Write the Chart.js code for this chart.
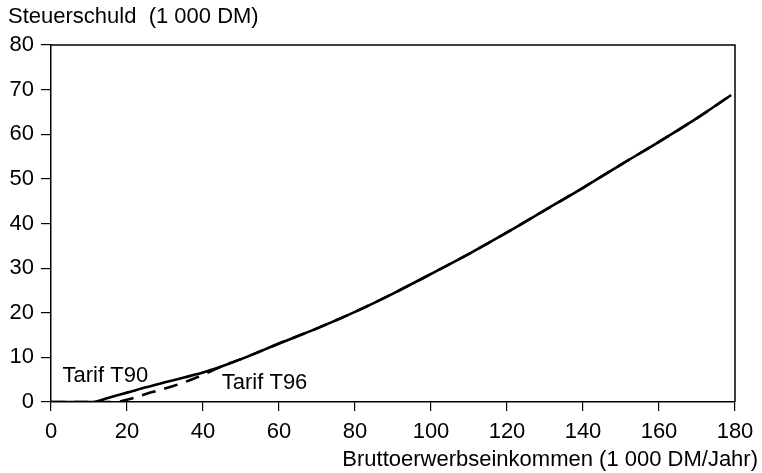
<!DOCTYPE html>
<html lang="de">

<head>
  <meta charset="utf-8">
  <title>Steuerschuld - Tarif T90 / T96</title>
  <script src="https://cdn.jsdelivr.net/npm/chart.js@4/dist/chart.umd.min.js"></script>
  <style>
    html, body { margin: 0; padding: 0; background: #fff; }
    #wrap { width: 762px; height: 473px; }
  </style>
</head>

<body>
  <div id="wrap"><canvas id="graph"></canvas></div>

  <script>
    // Bruttoerwerbseinkommen (1 000 DM/Jahr)
    var einkommen = [0, 5, 11, 15, 17, 20, 25, 30, 35, 40, 45, 50, 60, 70, 80, 90, 100, 110, 120, 130, 140, 150, 160, 170, 179];
    // Steuerschuld (1 000 DM)
    var tarifT90 = [0, 0, 0, 0.9, 1.4, 2.1, 3.3, 4.4, 5.5, 6.6, 8.0, 9.6, 13.1, 16.5, 20.2, 24.3, 28.7, 33.2, 38.0, 43.0, 48.0, 53.2, 58.3, 63.6, 68.8];
    var tarifT96 = [0, 0, 0, 0, 0, 0.5, 1.8, 3.0, 4.4, 6.1, 8.0, 9.6, 13.1, 16.5, 20.2, 24.3, 28.7, 33.2, 38.0, 43.0, 48.0, 53.2, 58.3, 63.6, 68.8];

    var xTicks = [0, 20, 40, 60, 80, 100, 120, 140, 160, 180];
    var yTicks = [0, 10, 20, 30, 40, 50, 60, 70, 80];

    var tarifNamen = ['Tarif T90', 'Tarif T96'];
    var tarifNamenX = [14.3, 56.2];
    var tarifNamenY = [5.8, 4.2];

    var yTitel = 'Steuerschuld  (1 000 DM)';
    var xTitel = 'Bruttoerwerbseinkommen (1 000 DM/Jahr)';

    var schrift = '"Liberation Sans", Arial, Helvetica, sans-serif';

    function punkte(xs, ys) {
      var p = [];
      for (var i = 0; i < xs.length; i++)
        p.push({ x: xs[i], y: ys[i] });
      return p;
    }

    // Rahmen oben/rechts, Achsentitel und Kurvenbeschriftung
    const beschriftung = {
      id: 'beschriftung',
      afterDraw(chart) {
        var ctx = chart.ctx;
        var a = chart.chartArea;
        var sx = chart.scales.x, sy = chart.scales.y;
        ctx.save();
        ctx.strokeStyle = '#000';
        ctx.lineWidth = 1.5;
        ctx.beginPath();
        ctx.moveTo(a.left, a.top);
        ctx.lineTo(a.right, a.top);
        ctx.lineTo(a.right, a.bottom);
        ctx.stroke();

        ctx.fillStyle = '#000';
        ctx.font = '22px ' + schrift;
        ctx.textBaseline = 'middle';
        ctx.textAlign = 'left';
        ctx.fillText(yTitel, a.left - 43, a.top - 28);
        ctx.textAlign = 'right';
        ctx.fillText(xTitel, chart.width - 4, a.bottom + 58);

        ctx.textAlign = 'center';
        for (var i = 0; i < tarifNamen.length; i++)
          ctx.fillText(tarifNamen[i], sx.getPixelForValue(tarifNamenX[i]), sy.getPixelForValue(tarifNamenY[i]));
        ctx.restore();
      }
    };

    var data = {
      datasets: [{
        label: 'Tarif T96',
        data: punkte(einkommen, tarifT96),
        borderColor: '#000',
        borderWidth: 2.6,
        borderDash: [14, 9],
        pointRadius: 0,
        fill: false,
        cubicInterpolationMode: 'monotone'
      }, {
        label: 'Tarif T90',
        data: punkte(einkommen, tarifT90),
        borderColor: '#000',
        borderWidth: 2.6,
        pointRadius: 0,
        fill: false,
        cubicInterpolationMode: 'monotone'
      }]
    };

    const options = {
      responsive: true,
      maintainAspectRatio: false,
      animation: false,
      layout: { padding: { left: 0, top: 45, right: 27, bottom: 0 } },
      plugins: { legend: { display: false }, tooltip: { enabled: false } },
      scales: {
        x: {
          type: 'linear',
          min: 0, max: 180,
          afterBuildTicks: s => { s.ticks = xTicks.map(v => ({ value: v })); },
          afterFit: s => { s.height = 71; },
          border: { display: true, color: '#000', width: 1.5 },
          grid: { drawOnChartArea: false, drawTicks: true, tickLength: 9, color: '#000', lineWidth: 1.2 },
          ticks: { color: '#000', padding: 8, maxRotation: 0, font: { family: schrift, size: 22 } }
        },
        y: {
          min: 0, max: 80,
          afterBuildTicks: s => { s.ticks = yTicks.map(v => ({ value: v })); },
          afterFit: s => { s.width = 51; },
          border: { display: true, color: '#000', width: 1.5 },
          grid: { drawOnChartArea: false, drawTicks: true, tickLength: 10, color: '#000', lineWidth: 1.2 },
          ticks: { color: '#000', padding: 7, font: { family: schrift, size: 22 } }
        }
      }
    };

    new Chart(document.getElementById('graph'), {
      type: 'line',
      data: data,
      options: options,
      plugins: [beschriftung]
    });
  </script>
</body>
</html>
